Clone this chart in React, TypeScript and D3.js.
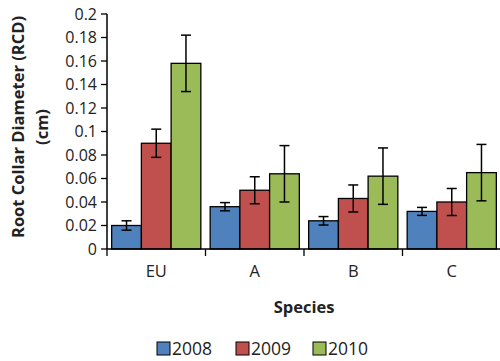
import React from "react";
import * as d3 from "d3";

const categories = ["EU", "A", "B", "C"];
const seriesNames = ["2008", "2009", "2010"];
const values2008 = [0.02, 0.036, 0.024, 0.032];
const values2009 = [0.09, 0.05, 0.043, 0.04];
const values2010 = [0.158, 0.064, 0.062, 0.065];
const errors2008 = [0.004, 0.0035, 0.0036, 0.0034];
const errors2009 = [0.012, 0.0115, 0.0115, 0.0115];
const errors2010 = [0.024, 0.024, 0.024, 0.024];
const yTicks = [0, 0.02, 0.04, 0.06, 0.08, 0.1, 0.12, 0.14, 0.16, 0.18, 0.2];
const colors = ["#4F81BD", "#C0504D", "#9BBB59"];

const W = 500, H = 361;
const left = 107, right = 501, top = 14, bottom = 249;
const font = "'Open Sans', sans-serif";

export default function App() {
  const x = d3.scaleBand<string>().domain(categories).range([left, right]).paddingInner(0).paddingOuter(0);
  const y = d3.scaleLinear().domain([0, 0.2]).range([bottom, top]);
  const inner = d3.scaleBand<string>().domain(seriesNames).range([0, x.bandwidth()]).paddingInner(0).paddingOuter(0.157);
  const vals = [values2008, values2009, values2010];
  const errs = [errors2008, errors2009, errors2010];
  const fmt = (d: number) => String(+d.toFixed(2));

  const legendX = [157, 236, 313];

  return (
    <svg width={W} height={H} style={{ position: "absolute", left: 0, top: 0, background: "#fff" }} fontFamily={font}>
      {/* bars */}
      {seriesNames.map((s, si) =>
        categories.map((c, ci) => {
          const bx = (x(c) as number) + (inner(s) as number);
          const v = vals[si][ci];
          return (
            <rect key={s + c} x={bx} y={y(v)} width={inner.bandwidth()} height={y(0) - y(v)}
              fill={colors[si]} stroke="#000" strokeWidth={1.3} />
          );
        })
      )}
      {/* error bars */}
      {seriesNames.map((s, si) =>
        categories.map((c, ci) => {
          const cx = (x(c) as number) + (inner(s) as number) + inner.bandwidth() / 2;
          const v = vals[si][ci], e = errs[si][ci];
          return (
            <g key={"e" + s + c} stroke="#000" strokeWidth={1.5}>
              <line x1={cx} x2={cx} y1={y(v + e)} y2={y(v - e)} />
              <line x1={cx - 5} x2={cx + 5} y1={y(v + e)} y2={y(v + e)} />
              <line x1={cx - 5} x2={cx + 5} y1={y(v - e)} y2={y(v - e)} />
            </g>
          );
        })
      )}
      {/* y axis */}
      <line x1={left} x2={left} y1={top} y2={bottom} stroke="#000" strokeWidth={1.5} />
      {yTicks.map((t) => (
        <g key={t}>
          <line x1={left - 6} x2={left} y1={y(t)} y2={y(t)} stroke="#000" strokeWidth={1.3} />
          <text x={left - 10} y={y(t)} dy="0.35em" textAnchor="end" fontSize={16} fill="#222">{fmt(t)}</text>
        </g>
      ))}
      {/* x axis */}
      <line x1={left} x2={right} y1={bottom} y2={bottom} stroke="#000" strokeWidth={1.5} />
      {categories.map((c) => (
        <line key={"t" + c} x1={x(c) as number} x2={x(c) as number} y1={bottom} y2={bottom + 7} stroke="#000" strokeWidth={1.3} />
      ))}
      {categories.map((c) => (
        <text key={"l" + c} x={(x(c) as number) + x.bandwidth() / 2} y={277} textAnchor="middle" fontSize={16.5} fill="#222">{c}</text>
      ))}
      {/* titles */}
      <text x={304} y={313} textAnchor="middle" fontSize={16.5} fontWeight="bold" fill="#222">Species</text>
      <g transform="translate(0,127) rotate(-90)">
        <text x={0} y={24} textAnchor="middle" fontSize={16.5} fontWeight="bold" fill="#222">Root Collar Diameter (RCD)</text>
        <text x={0} y={48} textAnchor="middle" fontSize={16.5} fontWeight="bold" fill="#222">(cm)</text>
      </g>
      {/* legend */}
      {seriesNames.map((s, i) => (
        <g key={"lg" + s}>
          <rect x={legendX[i]} y={342} width={13} height={13} fill={colors[i]} stroke="#000" strokeWidth={1} />
          <text x={legendX[i] + 15} y={349} dy="0.35em" fontSize={17.5} fill="#222">{s}</text>
        </g>
      ))}
    </svg>
  );
}
